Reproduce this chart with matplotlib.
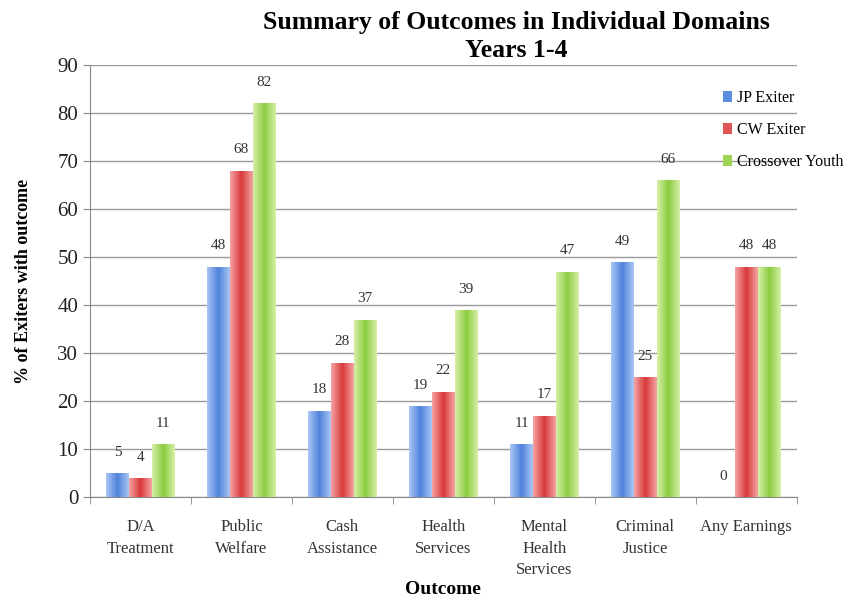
import numpy as np
import matplotlib.pyplot as plt
from matplotlib.colors import LinearSegmentedColormap

# data
categories = ['D/A\nTreatment', 'Public\nWelfare', 'Cash\nAssistance', 'Health\nServices',
              'Mental\nHealth\nServices', 'Criminal\nJustice', 'Any Earnings']
jp_exiter = [5, 48, 18, 19, 11, 49, 0]
cw_exiter = [4, 68, 28, 22, 17, 25, 48]
crossover = [11, 82, 37, 39, 47, 66, 48]
series_names = ['JP Exiter', 'CW Exiter', 'Crossover Youth']

plt.rcParams['font.family'] = ['Liberation Serif', 'DejaVu Serif']

fig = plt.figure(figsize=(8.65, 6.02), dpi=100)
ax = fig.add_axes([0.104, 0.174, 0.817, 0.718])

x = np.arange(len(categories))
width = 0.225
colors = [('#a9c6f5', '#4f82dc'), ('#f4a3a3', '#d9393b'), ('#d6f0a8', '#8ccc3f')]
solid = ['#5b8fe0', '#e05555', '#9fd454']

for i, (vals, name) in enumerate(zip([jp_exiter, cw_exiter, crossover], series_names)):
    pos = x + (i - 1) * width
    bars = ax.bar(pos, vals, width, color=solid[i], label=name, zorder=2)
    cmap = LinearSegmentedColormap.from_list('g', [colors[i][0], colors[i][1], colors[i][0]])
    grad = np.linspace(0, 1, 64).reshape(1, -1)
    for b in bars:
        if b.get_height() <= 0:
            continue
        im = ax.imshow(grad, cmap=cmap, aspect='auto', zorder=3,
                       extent=[b.get_x(), b.get_x() + b.get_width(), 0, b.get_height()])
        im.set_clip_path(b)
    for p, v in zip(pos, vals):
        ax.text(p, v + 3.0, str(v), ha='center', va='bottom', fontsize=11, color='#333333', zorder=4)

ax.set_xlim(-0.5, len(categories) - 0.5)
ax.set_ylim(0, 90)
ax.set_yticks(range(0, 91, 10))
ax.yaxis.grid(True, color='#9a9a9a', linewidth=1.0, zorder=0)
ax.set_axisbelow(True)

ax.set_xticks(x)
ax.set_xticklabels(categories, fontsize=12, color='#333333', linespacing=1.45)
ax.set_xticks(np.arange(-0.5, len(categories), 1), minor=True)
ax.tick_params(axis='x', which='major', length=0, pad=16)
ax.tick_params(axis='x', which='minor', length=5, color='#888888')
ax.tick_params(axis='y', labelsize=15, length=5, color='#888888', labelcolor='#222222')

for s in ['top', 'right']:
    ax.spines[s].set_visible(False)
ax.spines['left'].set_color('#888888')
ax.spines['bottom'].set_color('#888888')

ax.set_ylabel('% of Exiters with outcome', fontsize=13, fontweight='bold', labelpad=18)
fig.text(0.512, 1 - 590 / 602, 'Outcome', ha='center', va='center', fontsize=14, fontweight='bold')
fig.text(0.597, 1 - 11 / 602, 'Summary of Outcomes in Individual Domains\nYears 1-4',
         ha='center', va='top', fontsize=18.5, fontweight='bold', linespacing=1.3)

ax.legend(loc='upper left', bbox_to_anchor=(0.875, 0.975), frameon=False, fontsize=11.5,
          handlelength=0.6, handleheight=0.6, handletextpad=0.3, labelspacing=1.0)

fig.savefig('out.png', dpi=100)
